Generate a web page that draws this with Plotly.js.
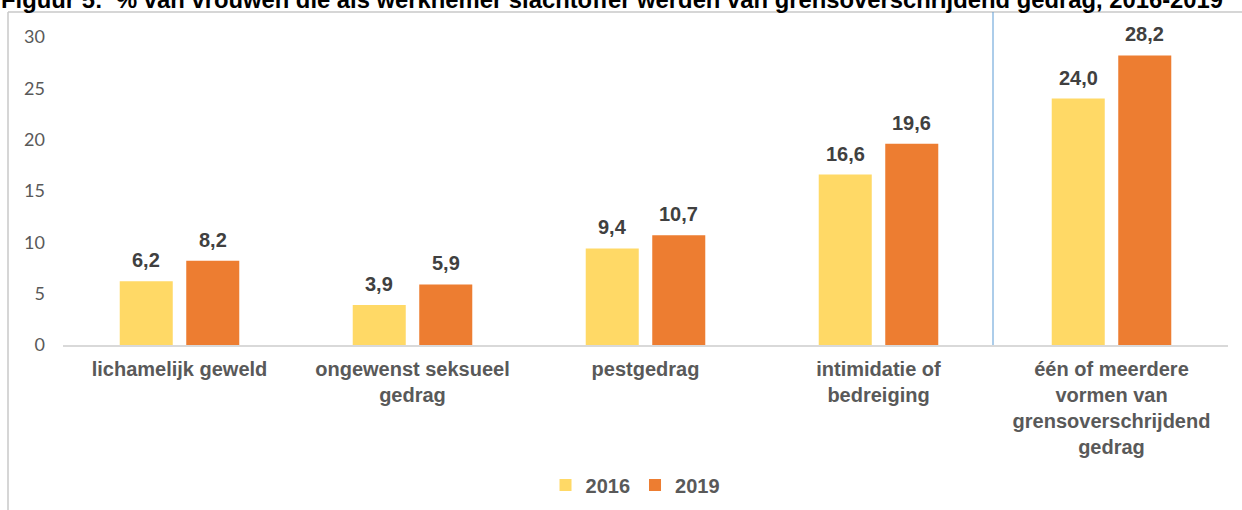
<!DOCTYPE html>
<html>
<head>
<meta charset="utf-8">
<script src="https://cdn.plot.ly/plotly-3.0.1.min.js"></script>
<style>html,body{margin:0;padding:0;background:#fff;}#chart{width:1242px;height:510px;}</style>
</head>
<body>
<div id="chart"></div>
<script>
const categories = [
  "lichamelijk geweld",
  "ongewenst seksueel<br>gedrag",
  "pestgedrag",
  "intimidatie of<br>bedreiging",
  "één of meerdere<br>vormen van<br>grensoverschrijdend<br>gedrag"
];
const values2016 = [6.2, 3.9, 9.4, 16.6, 24.0];
const values2019 = [8.2, 5.9, 10.7, 19.6, 28.2];
const seriesNames = ["2016", "2019"];
const yTicks = [0, 5, 10, 15, 20, 25, 30];
const titleText = "Figuur 5:\u00a0 % van vrouwen die als werknemer slachtoffer werden van grensoverschrijdend gedrag, 2016-2019";

const fmt = v => v.toFixed(1).replace(".", ",");

const traces = [
  {type: "bar", name: seriesNames[0], x: categories, y: values2016,
   marker: {color: "#FFD966", line: {width: 0}}, hoverinfo: "y"},
  {type: "bar", name: seriesNames[1], x: categories, y: values2019,
   marker: {color: "#ED7D31", line: {width: 0}}, hoverinfo: "y"}
];

const labelFont = {family: "Liberation Sans, Arial, sans-serif", size: 20, color: "#404040", weight: "bold"};
const annotations = [];
[values2016, values2019].forEach((vals, s) => {
  vals.forEach((v, i) => {
    annotations.push({
      x: categories[i], y: v, xref: "x", yref: "y",
      text: "<b>" + fmt(v) + "</b>", showarrow: false,
      xanchor: "center", yanchor: "middle",
      xshift: s === 0 ? -33.25 : 33.25, yshift: 21,
      font: labelFont
    });
  });
});
annotations.push({
  xref: "paper", yref: "paper", x: 0, y: 1,
  xanchor: "left", yanchor: "middle", xshift: -64, yshift: 38,
  text: "<b>" + titleText + "</b>", showarrow: false,
  font: {family: "Liberation Sans, Arial, sans-serif", size: 23.8, color: "#000000"}
});

const shapes = [
  {type: "line", xref: "paper", yref: "paper", xsizemode: "pixel", ysizemode: "pixel",
   xanchor: 0, yanchor: 0, x0: -55, x1: -55, y0: 333, y1: -170,
   line: {color: "#C8C8C8", width: 1.5}},
  {type: "line", xref: "paper", yref: "paper", xsizemode: "pixel", ysizemode: "pixel",
   xanchor: 0, yanchor: 0, x0: -55, x1: 1200, y0: 333, y1: 333,
   line: {color: "#C8C8C8", width: 1.5}},
  {type: "line", xref: "paper", yref: "paper", xsizemode: "pixel", ysizemode: "pixel",
   xanchor: 0, yanchor: 0, x0: 930, x1: 930, y0: 333, y1: 0,
   line: {color: "#5B9BD5", width: 1}}
];

const layout = {
  width: 1242, height: 510,
  margin: {l: 63, r: 14, t: 37, b: 165, autoexpand: false},
  paper_bgcolor: "#ffffff", plot_bgcolor: "#ffffff",
  barmode: "group", bargap: 0.429, bargroupgap: 0.203,
  showlegend: true,
  legend: {orientation: "h", x: 0.491, xanchor: "center", y: -0.4545, yanchor: "middle",
    font: {family: "Liberation Sans, Arial, sans-serif", size: 20, color: "#595959", weight: "bold"},
    itemwidth: 30, traceorder: "normal"},
  xaxis: {
    type: "category", showgrid: false, zeroline: false,
    showline: true, linecolor: "#D9D9D9", linewidth: 1.5,
    ticks: "", tickfont: {family: "Liberation Sans, Arial, sans-serif", size: 20, color: "#595959", weight: "bold"},
    tickangle: 0, automargin: false, ticklabelstandoff: 5
  },
  yaxis: {
    range: [0, 30], tickvals: yTicks, ticktext: yTicks.map(String),
    showgrid: false, zeroline: false, showline: false, ticks: "",
    tickfont: {family: "Lato, sans-serif", size: 18, color: "#595959"},
    ticklabelstandoff: 17, automargin: false
  },
  annotations: annotations,
  shapes: shapes
};

Plotly.newPlot("chart", traces, layout, {staticPlot: true, displayModeBar: false});
</script>
</body>
</html>
